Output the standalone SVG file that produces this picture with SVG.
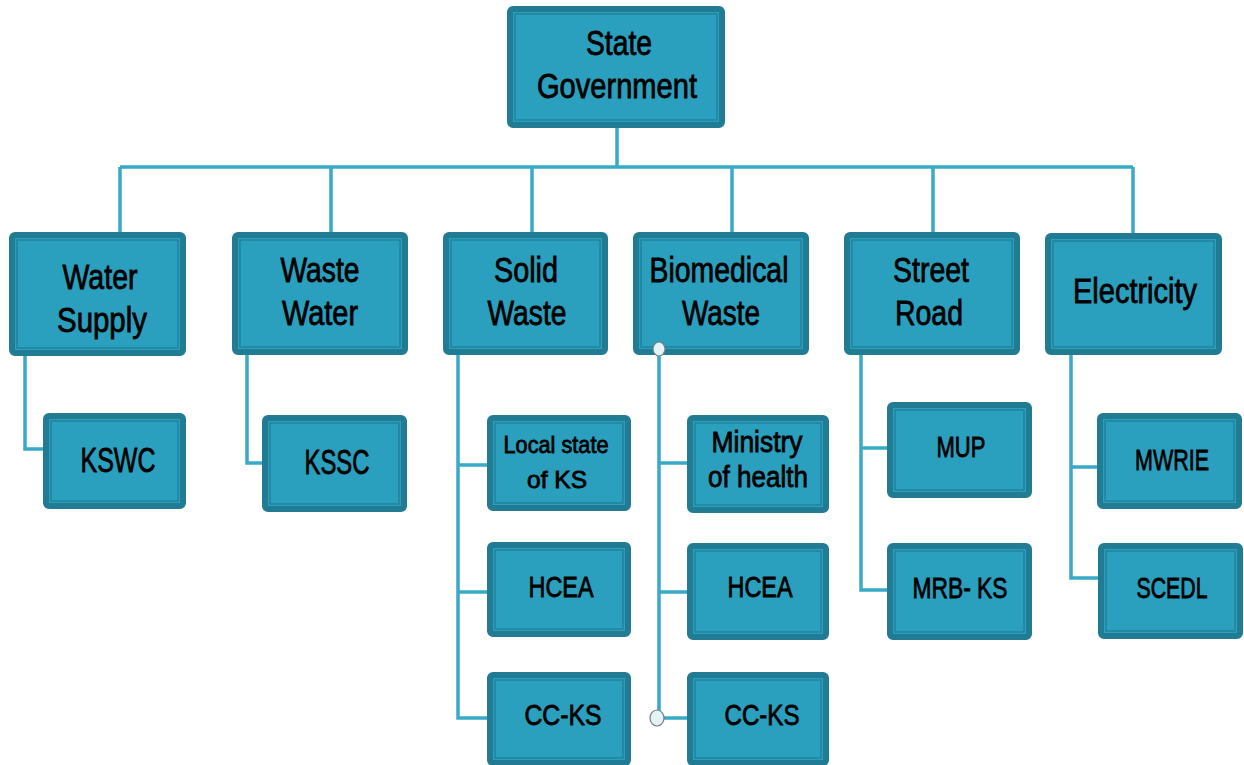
<svg xmlns="http://www.w3.org/2000/svg" width="1244" height="765" viewBox="0 0 1244 765">
<style>
.box{fill:#2aa0be;stroke:#217b93;stroke-width:6}
.inner{fill:none;stroke:#1f7f98;stroke-width:1.3}
.t{font-family:"Liberation Sans Narrow","Liberation Sans",Arial,sans-serif;fill:#000;text-anchor:middle;stroke:#000;stroke-width:0.8}
.big{font-size:35px}
.mid{font-size:29px}
.sm{font-size:24px}
.con{fill:none;stroke:#38a9c6;stroke-width:3.5}
.dot{fill:#e6f3f6;stroke:#6f7f84;stroke-width:1.2}
</style>
<rect width="1244" height="765" fill="#ffffff"/>
<g id="connectors">
<path class="con" d="M617 126 V167 M120 167 H1133 M120 167 V234 M331 167 V234 M532 167 V234 M732 167 V234 M933 167 V234 M1133 167 V234"/>
<path class="con" d="M25 352 V449 H45"/>
<path class="con" d="M247 352 V463 H264"/>
<path class="con" d="M458 352 V718 H489 M458 465 H489 M458 592 H489"/>
<path class="con" d="M659 349 V718 H689 M659 463 H689 M659 592 H689"/>
<path class="con" d="M861 352 V590 H889 M861 448 H889"/>
<path class="con" d="M1071 352 V578 H1099 M1071 467 H1099"/>
</g>
<g id="state-government">
<rect class="box" x="510" y="9" width="212" height="116" rx="3"/>
<rect class="inner" x="515" y="14" width="202" height="106"/>
<text class="t big" x="619" y="55" textLength="66" lengthAdjust="spacingAndGlyphs">State</text>
<text class="t big" x="617" y="98" textLength="160" lengthAdjust="spacingAndGlyphs">Government</text>
</g>
<g id="water-supply">
<rect class="box" x="12" y="235" width="171" height="118" rx="3"/>
<rect class="inner" x="17" y="240" width="161" height="108"/>
<text class="t big" x="100" y="289" textLength="75" lengthAdjust="spacingAndGlyphs">Water</text>
<text class="t big" x="102" y="332" textLength="90" lengthAdjust="spacingAndGlyphs">Supply</text>
</g>
<g id="waste-water">
<rect class="box" x="235" y="235" width="170" height="117" rx="3"/>
<rect class="inner" x="240" y="240" width="160" height="107"/>
<text class="t big" x="320" y="282" textLength="79" lengthAdjust="spacingAndGlyphs">Waste</text>
<text class="t big" x="320" y="325" textLength="76" lengthAdjust="spacingAndGlyphs">Water</text>
</g>
<g id="solid-waste">
<rect class="box" x="446" y="235" width="159" height="117" rx="3"/>
<rect class="inner" x="451" y="240" width="149" height="107"/>
<text class="t big" x="526" y="282" textLength="64" lengthAdjust="spacingAndGlyphs">Solid</text>
<text class="t big" x="527" y="325" textLength="79" lengthAdjust="spacingAndGlyphs">Waste</text>
</g>
<g id="biomedical-waste">
<rect class="box" x="636" y="235" width="170" height="117" rx="3"/>
<rect class="inner" x="641" y="240" width="160" height="107"/>
<text class="t big" x="719" y="282" textLength="139" lengthAdjust="spacingAndGlyphs">Biomedical</text>
<text class="t big" x="721" y="325" textLength="78" lengthAdjust="spacingAndGlyphs">Waste</text>
</g>
<g id="street-road">
<rect class="box" x="847" y="235" width="170" height="117" rx="3"/>
<rect class="inner" x="852" y="240" width="160" height="107"/>
<text class="t big" x="931" y="282" textLength="76" lengthAdjust="spacingAndGlyphs">Street</text>
<text class="t big" x="929" y="325" textLength="68" lengthAdjust="spacingAndGlyphs">Road</text>
</g>
<g id="electricity">
<rect class="box" x="1048" y="236" width="171" height="116" rx="3"/>
<rect class="inner" x="1053" y="241" width="161" height="106"/>
<text class="t big" x="1135" y="303" textLength="124" lengthAdjust="spacingAndGlyphs">Electricity</text>
</g>
<g id="kswc">
<rect class="box" x="46" y="416" width="137" height="90" rx="3"/>
<rect class="inner" x="51" y="421" width="127" height="80"/>
<text class="t big" x="118" y="472" textLength="75" lengthAdjust="spacingAndGlyphs">KSWC</text>
</g>
<g id="kssc">
<rect class="box" x="265" y="418" width="139" height="91" rx="3"/>
<rect class="inner" x="270" y="423" width="129" height="81"/>
<text class="t big" x="337" y="474" textLength="65" lengthAdjust="spacingAndGlyphs">KSSC</text>
</g>
<g id="local-state-of-ks">
<rect class="box" x="490" y="418" width="138" height="90" rx="3"/>
<rect class="inner" x="495" y="423" width="128" height="80"/>
<text class="t sm" x="556" y="453" textLength="105" lengthAdjust="spacingAndGlyphs">Local state</text>
<text class="t sm" x="557" y="488" textLength="60" lengthAdjust="spacingAndGlyphs">of KS</text>
</g>
<g id="hcea-solid">
<rect class="box" x="490" y="545" width="138" height="89" rx="3"/>
<rect class="inner" x="495" y="550" width="128" height="79"/>
<text class="t mid" x="561" y="597" textLength="65" lengthAdjust="spacingAndGlyphs">HCEA</text>
</g>
<g id="cc-ks-solid">
<rect class="box" x="490" y="675" width="138" height="88" rx="3"/>
<rect class="inner" x="495" y="680" width="128" height="78"/>
<text class="t mid" x="563" y="725" textLength="77" lengthAdjust="spacingAndGlyphs">CC-KS</text>
</g>
<g id="ministry-of-health">
<rect class="box" x="690" y="418" width="136" height="92" rx="3"/>
<rect class="inner" x="695" y="423" width="126" height="82"/>
<text class="t mid" x="757" y="452" textLength="91" lengthAdjust="spacingAndGlyphs">Ministry</text>
<text class="t mid" x="758" y="487" textLength="100" lengthAdjust="spacingAndGlyphs">of health</text>
</g>
<g id="hcea-bio">
<rect class="box" x="690" y="546" width="136" height="91" rx="3"/>
<rect class="inner" x="695" y="551" width="126" height="81"/>
<text class="t mid" x="760" y="597" textLength="65" lengthAdjust="spacingAndGlyphs">HCEA</text>
</g>
<g id="cc-ks-bio">
<rect class="box" x="690" y="675" width="136" height="88" rx="3"/>
<rect class="inner" x="695" y="680" width="126" height="78"/>
<text class="t mid" x="762" y="725" textLength="75" lengthAdjust="spacingAndGlyphs">CC-KS</text>
</g>
<g id="mup">
<rect class="box" x="890" y="405" width="139" height="90" rx="3"/>
<rect class="inner" x="895" y="410" width="129" height="80"/>
<text class="t mid" x="961" y="457" textLength="49" lengthAdjust="spacingAndGlyphs">MUP</text>
</g>
<g id="mrb-ks">
<rect class="box" x="890" y="546" width="139" height="91" rx="3"/>
<rect class="inner" x="895" y="551" width="129" height="81"/>
<text class="t mid" x="960" y="598" textLength="95" lengthAdjust="spacingAndGlyphs">MRB- KS</text>
</g>
<g id="mwrie">
<rect class="box" x="1100" y="416" width="139" height="90" rx="3"/>
<rect class="inner" x="1105" y="421" width="129" height="80"/>
<text class="t mid" x="1172" y="470" textLength="74" lengthAdjust="spacingAndGlyphs">MWRIE</text>
</g>
<g id="scedl">
<rect class="box" x="1101" y="546" width="139" height="90" rx="3"/>
<rect class="inner" x="1106" y="551" width="129" height="80"/>
<text class="t mid" x="1172" y="598" textLength="71" lengthAdjust="spacingAndGlyphs">SCEDL</text>
</g>
<g id="connector-ends">
<ellipse class="dot" cx="659" cy="349" rx="6" ry="7"/>
<ellipse class="dot" cx="657" cy="718" rx="7" ry="8"/>
</g>
</svg>
